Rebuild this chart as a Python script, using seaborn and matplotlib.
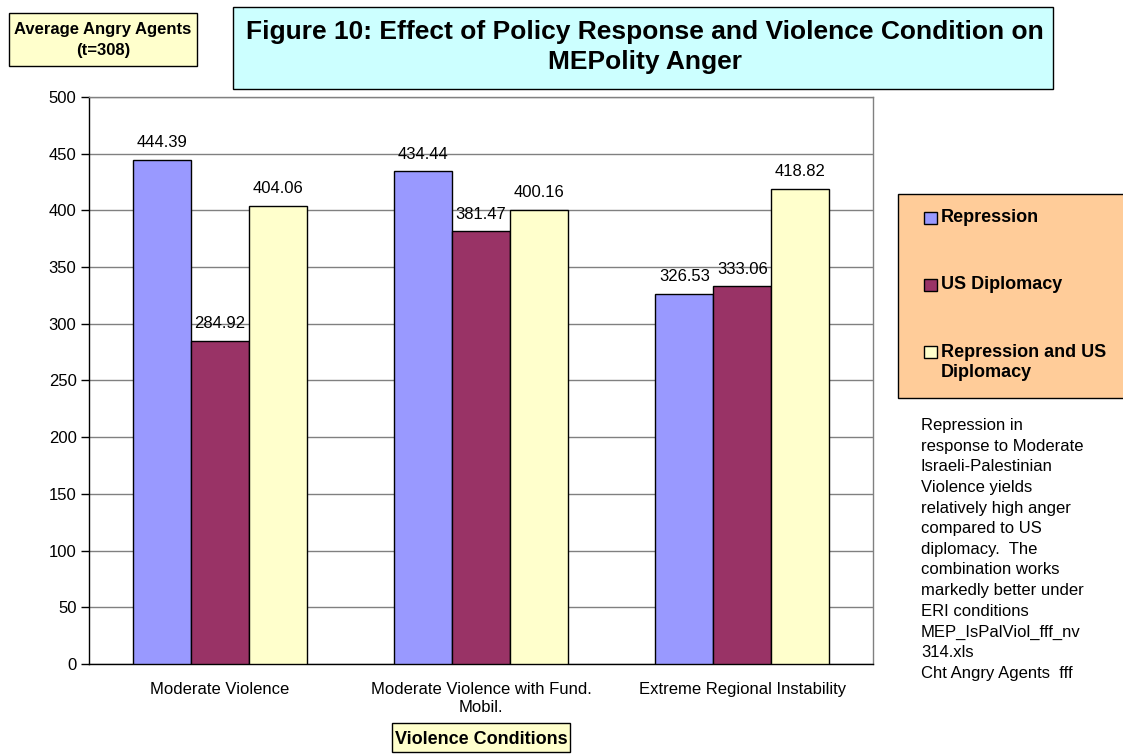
import matplotlib
matplotlib.use("Agg")
import matplotlib.pyplot as plt
from matplotlib.patches import Rectangle
import seaborn as sns
import pandas as pd

# Data
conditions = ["Moderate Violence", "Moderate Violence with Fund.\nMobil.", "Extreme Regional Instability"]
policies = ["Repression", "US Diplomacy", "Repression and US\nDiplomacy"]
repression = [444.39, 434.44, 326.53]
us_diplomacy = [284.92, 381.47, 333.06]
repression_us = [404.06, 400.16, 418.82]
yticks = [0, 50, 100, 150, 200, 250, 300, 350, 400, 450, 500]

colors = ["#9999FF", "#993366", "#FFFFCC"]

rows = []
for pol, vals in zip(policies, [repression, us_diplomacy, repression_us]):
    for cond, v in zip(conditions, vals):
        rows.append({"condition": cond, "policy": pol, "value": v})
df = pd.DataFrame(rows)

sns.set_theme(style="white")
plt.rcParams["font.family"] = ["Liberation Sans", "DejaVu Sans"]
plt.rcParams["text.color"] = "black"
plt.rcParams["xtick.color"] = "black"
plt.rcParams["ytick.color"] = "black"

W, H = 1123, 755
fig = plt.figure(figsize=(W / 100, H / 100), dpi=100)
fig.patch.set_facecolor("white")


def fx(px):
    return px / W


def fy(py):
    return 1 - py / H


ax = fig.add_axes([fx(89), fy(664), fx(873) - fx(89), fy(97) - fy(664)])

sns.barplot(data=df, x="condition", y="value", hue="policy", order=conditions,
            hue_order=policies, palette=colors, width=0.666, saturation=1,
            edgecolor="black", linewidth=1.0, ax=ax, legend=False, zorder=3)

for cont in ax.containers:
    ax.bar_label(cont, fmt="%.2f", padding=7, fontsize=12, color="black", zorder=4)

ax.set_xlim(-0.5, 2.5)
ax.set_ylim(0, 500)
ax.set_yticks(yticks)
ax.set_yticklabels([str(t) for t in yticks], fontsize=12)
ax.yaxis.grid(True, color="#808080", linewidth=1.0, zorder=0)
ax.set_axisbelow(True)
ax.set_xlabel("")
ax.set_ylabel("")

# Category labels centred, tick marks between categories
ax.set_xticks([0, 1, 2])
ax.set_xticklabels(conditions, fontsize=12, linespacing=1.25)
ax.set_xticks([-0.5, 0.5, 1.5, 2.5], minor=True)
ax.tick_params(axis="x", which="major", length=0, pad=13)
ax.tick_params(axis="x", which="minor", length=6, width=1, color="black", direction="out")
ax.tick_params(axis="y", which="major", length=6, width=1, color="black", direction="out", pad=3)
ax.tick_params(bottom=True, left=True)

for side in ["top", "right"]:
    ax.spines[side].set_visible(True)
    ax.spines[side].set_color("#808080")
    ax.spines[side].set_linewidth(1.0)
for side in ["left", "bottom"]:
    ax.spines[side].set_color("black")
    ax.spines[side].set_linewidth(1.0)

# Title box
fig.patches.append(Rectangle((fx(233), fy(89)), fx(1053) - fx(233), fy(7) - fy(89),
                             transform=fig.transFigure, facecolor="#CCFFFF",
                             edgecolor="black", linewidth=1.0))
fig.text(fx(645), fy(47), "Figure 10: Effect of Policy Response and Violence Condition on\nMEPolity Anger",
         ha="center", va="center", fontsize=19, fontweight="bold", linespacing=1.3)

# Y-axis title box
fig.patches.append(Rectangle((fx(9), fy(66)), fx(197) - fx(9), fy(13) - fy(66),
                             transform=fig.transFigure, facecolor="#FFFFCC",
                             edgecolor="black", linewidth=1.0))
fig.text(fx(103), fy(40), "Average Angry Agents\n(t=308)", ha="center", va="center",
         fontsize=12, fontweight="bold", linespacing=1.45)

# X-axis title box
fig.patches.append(Rectangle((fx(392), fy(752)), fx(570) - fx(392), fy(723) - fy(752),
                             transform=fig.transFigure, facecolor="#FFFFCC",
                             edgecolor="black", linewidth=1.0))
fig.text(fx(481), fy(739), "Violence Conditions", ha="center", va="center",
         fontsize=13, fontweight="bold")

# Legend box
fig.patches.append(Rectangle((fx(898), fy(398)), fx(1130) - fx(898), fy(194) - fy(398),
                             transform=fig.transFigure, facecolor="#FFCC99",
                             edgecolor="black", linewidth=1.0, clip_on=False))
legend_y = [218, 285, 352]
for pol, col, ly in zip(policies, colors, legend_y):
    fig.patches.append(Rectangle((fx(924), fy(ly + 6)), fx(937) - fx(924), fy(ly - 6) - fy(ly + 6),
                                 transform=fig.transFigure, facecolor=col,
                                 edgecolor="black", linewidth=1.0))
    if "\n" in pol:
        fig.text(fx(941), fy(ly - 8), pol, ha="left", va="top",
                 fontsize=13, fontweight="bold", linespacing=1.24)
    else:
        fig.text(fx(941), fy(ly), pol, ha="left", va="center",
                 fontsize=13, fontweight="bold")

# Note text
note = ("Repression in\nresponse to Moderate\nIsraeli-Palestinian\nViolence yields\n"
        "relatively high anger\ncompared to US\ndiplomacy.  The\ncombination works\n"
        "markedly better under\nERI conditions\nMEP_IsPalViol_fff_nv\n314.xls\nCht Angry Agents  fff")
fig.text(fx(921), fy(418), note, ha="left", va="top", fontsize=12, linespacing=1.47)

fig.savefig("out.png", dpi=100)
